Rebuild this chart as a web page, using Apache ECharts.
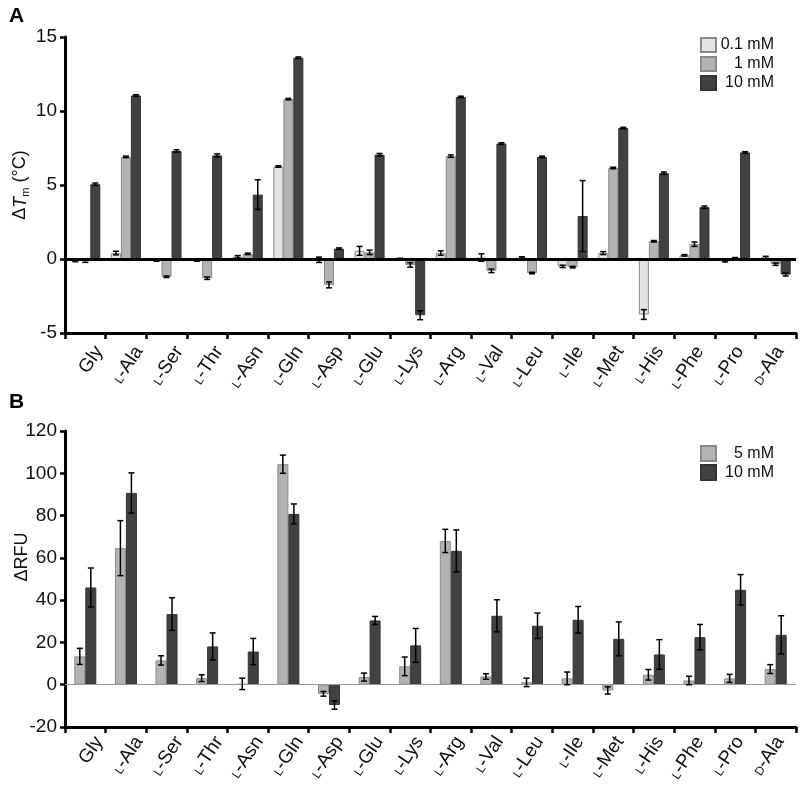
<!DOCTYPE html>
<html>
<head>
<meta charset="utf-8">
<script src="https://cdn.jsdelivr.net/npm/echarts@6/dist/echarts.min.js"></script>
<style>
html,body{margin:0;padding:0;background:#fff;}
#c{width:800px;height:785px;}
</style>
</head>
<body>
<div id="c"></div>
<script>
// ---------- data ----------
const categories = ['Gly','{s|L}-Ala','{s|L}-Ser','{s|L}-Thr','{s|L}-Asn','{s|L}-Gln','{s|L}-Asp','{s|L}-Glu','{s|L}-Lys','{s|L}-Arg','{s|L}-Val','{s|L}-Leu','{s|L}-Ile','{s|L}-Met','{s|L}-His','{s|L}-Phe','{s|L}-Pro','{s|D}-Ala'];

// Panel A: ΔTm (°C)
const tm01  = [-0.1, 0.4, -0.1, -0.1, 0.15, 6.25, -0.05, 0.55, 0, 0.4, 0.1, 0.1, -0.5, 0.4, -3.75, 0.25, -0.15, 0.1];
const tm01e = [0.08, 0.12, 0.05, 0.05, 0.08, 0.05, 0.18, 0.3, 0.05, 0.15, 0.25, 0.05, 0.08, 0.1, 0.33, 0.05, 0.05, 0.08];
const tm1   = [-0.15, 6.9, -1.2, -1.3, 0.35, 10.8, -1.75, 0.45, -0.4, 6.95, -0.8, -0.95, -0.55, 6.15, 1.2, 1.0, 0.05, -0.35];
const tm1e  = [0.08, 0.05, 0.05, 0.08, 0.05, 0.05, 0.2, 0.15, 0.15, 0.08, 0.12, 0.05, 0.05, 0.05, 0.05, 0.15, 0.05, 0.08];
const tm10  = [5.05, 11.05, 7.3, 7.0, 4.35, 13.6, 0.7, 7.05, -3.8, 10.95, 7.8, 6.9, 2.9, 8.85, 5.8, 3.5, 7.2, -1.05];
const tm10e = [0.08, 0.05, 0.08, 0.1, 1.0, 0.05, 0.05, 0.08, 0.3, 0.05, 0.05, 0.05, 2.4, 0.05, 0.08, 0.08, 0.05, 0.1];
const tmTicks = {min: -5, max: 15, interval: 5};

// Panel B: ΔRFU
const rfu5   = [13.4, 64.6, 11.5, 3.1, 0.4, 104.3, -4.3, 3.6, 8.7, 68.0, 3.9, 1.1, 3.0, -2.7, 4.7, 2.0, 3.0, 7.4];
const rfu5e  = [3.8, 13, 2.2, 1.6, 2.7, 4.3, 1.1, 1.9, 4.4, 5.5, 1.3, 2.0, 3.0, 1.7, 2.5, 2.0, 1.9, 2.1];
const rfu10  = [46, 90.7, 33.4, 18.1, 15.7, 80.8, -9.6, 30.4, 18.6, 63.3, 32.6, 27.9, 30.7, 21.7, 14.3, 22.5, 44.9, 23.6];
const rfu10e = [9.2, 9.5, 7.7, 6.4, 6.2, 4.7, 2.0, 1.9, 8.0, 9.9, 7.6, 6.0, 6.3, 8.0, 7.0, 6.0, 7.2, 9.0];
const rfuTicks = {min: -20, max: 120, interval: 20};

// ---------- styles ----------
const FONT = 'Liberation Sans, Arial, sans-serif';
const C_LIGHT = '#e4e4e4', C_MID = '#b3b3b3', C_DARK = '#414141';
const labelRich = { s: {fontSize: 12, fontFamily: FONT, color: '#111', padding: [4,0,0,0]} };

function errSeries(vals, errs, k, n, bw, gi) {
  return {
    type: 'custom', xAxisIndex: gi, yAxisIndex: gi, z: 10, silent: true,
    data: vals.map((v, i) => [i, v, errs[i]]),
    renderItem(params, api) {
      const i = api.value(0), v = api.value(1), e = api.value(2);
      const c = api.coord([i, v]);
      const x = c[0] + (k - (n - 1) / 2) * bw;
      const yt = api.coord([i, v + e])[1], yb = api.coord([i, v - e])[1];
      const cap = 3, st = {stroke: '#000', lineWidth: 1.5};
      return {type: 'group', children: [
        {type: 'line', shape: {x1: x, y1: yt, x2: x, y2: yb}, style: st},
        {type: 'line', shape: {x1: x - cap, y1: yt, x2: x + cap, y2: yt}, style: st},
        {type: 'line', shape: {x1: x - cap, y1: yb, x2: x + cap, y2: yb}, style: st}
      ]};
    }
  };
}
function barSeries(name, vals, color, border, bw, gi, zeroLine) {
  const s = {
    name, type: 'bar', xAxisIndex: gi, yAxisIndex: gi, data: vals,
    barWidth: bw, barGap: '0%',
    itemStyle: {color, borderColor: border, borderWidth: 1},
    emphasis: {disabled: true}
  };
  if (zeroLine) s.markLine = {silent: true, symbol: 'none', label: {show: false},
    lineStyle: zeroLine, data: [{yAxis: 0}]};
  return s;
}

const GL = 65, GW = 731, TOPA = 37, TOPB = 431, GH = 296, LSHIFT = 14;

const xMain = gi => ({
  type: 'category', gridIndex: gi, data: categories, boundaryGap: true,
  axisLine: {onZero: false, lineStyle: {color: '#000', width: 3}},
  axisTick: {show: true, interval: 0, length: 6, lineStyle: {color: '#000', width: 2.5}},
  axisLabel: {show: false}, splitLine: {show: false}
});
const xLab = gi => ({
  type: 'category', gridIndex: gi, data: categories, boundaryGap: true,
  axisLine: {show: false}, axisTick: {show: false}, splitLine: {show: false},
  axisLabel: {show: true, interval: 0, rotate: 56, margin: 15, fontSize: 19,
    fontFamily: FONT, color: '#111', rich: labelRich}
});
const yMain = (gi, t, name, nameRich, namePad) => ({
  type: 'value', gridIndex: gi, min: t.min, max: t.max, interval: t.interval,
  axisLine: {show: true, lineStyle: {color: '#000', width: 3}},
  axisTick: {show: true, length: 5, lineStyle: {color: '#000', width: 2.5}},
  axisLabel: {fontSize: 19, fontFamily: FONT, color: '#111', margin: 8},
  splitLine: {show: false},
  name, nameLocation: 'middle', nameGap: 34, nameRotate: 90, nameMoveOverlap: false,
  nameTextStyle: {fontSize: 18, fontFamily: FONT, color: '#111', rich: nameRich, padding: namePad}
});
const yHidden = (gi, t) => ({type: 'value', gridIndex: gi, min: t.min, max: t.max, show: false});

const nameRichA = {
  n: {fontSize: 18, fontFamily: FONT, color: '#111'},
  i: {fontSize: 18, fontFamily: FONT, fontStyle: 'italic', color: '#111'},
  sub: {fontSize: 11, fontFamily: FONT, color: '#111', padding: [10, 0, 0, 0]}
};

const legendRich = {r: {width: 53, align: 'right', fontSize: 16, fontFamily: FONT, color: '#111'}};

const option = {
  animation: false,
  backgroundColor: '#fff',
  title: [
    {text: 'A', left: 4, top: 1, textStyle: {fontSize: 21, fontWeight: 'bold', fontFamily: FONT, color: '#000'}},
    {text: 'B', left: 4, top: 387, textStyle: {fontSize: 21, fontWeight: 'bold', fontFamily: FONT, color: '#000'}}
  ],
  legend: [
    {data: ['0.1 mM', '1 mM', '10 mM'], orient: 'vertical', left: 700, top: 37, padding: 0,
     icon: 'rect', itemWidth: 15, itemHeight: 14, itemGap: 3, formatter: '{r|{name}}',
     textStyle: {rich: legendRich}, selectedMode: false},
    {data: ['5 mM', '10 mM '], orient: 'vertical', left: 700, top: 445, padding: 0,
     icon: 'rect', itemWidth: 15, itemHeight: 15, itemGap: 2, formatter: n => '{r|' + n.trim() + '}',
     textStyle: {rich: legendRich}, selectedMode: false}
  ],
  grid: [
    {left: GL, width: GW, top: TOPA, height: GH},
    {left: GL, width: GW, top: TOPB, height: GH},
    {left: GL + LSHIFT, width: GW, top: TOPA, height: GH},
    {left: GL + LSHIFT, width: GW, top: TOPB, height: GH}
  ],
  xAxis: [xMain(0), xMain(1), xLab(2), xLab(3)],
  yAxis: [
    yMain(0, tmTicks, '{n|Δ}{i|T}{sub|m}{n| (°C)}', nameRichA, [0, 0, 0, 0]),
    yMain(1, rfuTicks, 'ΔRFU', null, [0, 0, 0, 44]),
    yHidden(2, tmTicks), yHidden(3, rfuTicks)
  ],
  series: [
    barSeries('0.1 mM', tm01, C_LIGHT, '#8a8a8a', 10, 0, {color: '#000', width: 3, type: 'solid'}),
    barSeries('1 mM', tm1, C_MID, '#8a8a8a', 10, 0),
    barSeries('10 mM', tm10, C_DARK, '#333', 10, 0),
    errSeries(tm01, tm01e, 0, 3, 10, 0),
    errSeries(tm1, tm1e, 1, 3, 10, 0),
    errSeries(tm10, tm10e, 2, 3, 10, 0),
    barSeries('5 mM', rfu5, C_MID, '#8a8a8a', 11, 1, {color: '#999', width: 1, type: 'solid'}),
    barSeries('10 mM ', rfu10, C_DARK, '#333', 11, 1),
    errSeries(rfu5, rfu5e, 0, 2, 11, 1),
    errSeries(rfu10, rfu10e, 1, 2, 11, 1)
  ]
};
echarts.init(document.getElementById('c'), null, {renderer: 'canvas'}).setOption(option);
</script>
</body>
</html>
